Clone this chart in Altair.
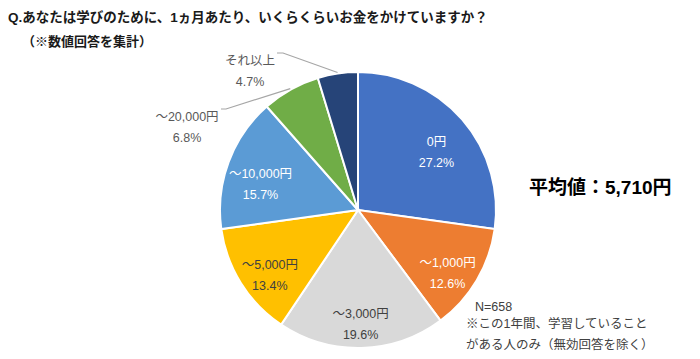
import math
import altair as alt
import pandas as pd

# ---- data ----
categories = ["0円", "～1,000円", "～3,000円", "～5,000円", "～10,000円", "～20,000円", "それ以上"]
percents = [27.2, 12.6, 19.6, 13.4, 15.7, 6.8, 4.7]
slice_colors = ["#4472C4", "#ED7D31", "#D9D9D9", "#FFC000", "#5B9BD5", "#70AD47", "#264478"]
outside_cats = ["～20,000円", "それ以上"]
dark_text_cats = ["～3,000円", "～5,000円"]

title_text = "Q.あなたは学びのために、1ヵ月あたり、いくらくらいお金をかけていますか？"
subtitle_text = "（※数値回答を集計）"
mean_text = "平均値：5,710円"
note_lines = ["N=658", "※この1年間、学習していること", "がある人のみ（無効回答を除く）"]

# ---- layout (pixels inside the plot area) ----
FONT = "Liberation Sans, Noto Sans CJK JP, sans-serif"
CX, CY, R = 350, 202, 138
LABEL_R = 104
outside_layout = {
    "～20,000円": {"label": (179, 108.5), "start": (213, 101), "elbow": (218, 101)},
    "それ以上": {"label": (242, 52.5), "start": (269, 45), "elbow": (275, 45)},
}

df = pd.DataFrame({"cat": categories, "pct": percents, "idx": list(range(len(categories)))})
df["label"] = df["cat"] + "\n" + df["pct"].map(lambda v: f"{v:.1f}%")
df["inside"] = [("" if c in outside_cats else l) for c, l in zip(df["cat"], df["label"])]

color_enc = alt.Color("cat:N", scale=alt.Scale(domain=categories, range=slice_colors), legend=None)
theta_enc = alt.Theta("pct:Q", stack=True)
order_enc = alt.Order("idx:Q")

pie = alt.Chart(df).mark_arc(outerRadius=R, stroke="white", strokeWidth=2).encode(
    theta=theta_enc, order=order_enc, color=color_enc,
    x=alt.value(CX), y=alt.value(CY),
)

inside_labels = alt.Chart(df).mark_text(
    radius=LABEL_R, lineBreak="\n", fontSize=12.5, lineHeight=21, font=FONT,
    align="center", baseline="middle",
).encode(
    theta=theta_enc, order=order_enc, text="inside:N",
    x=alt.value(CX), y=alt.value(CY),
    color=alt.condition(alt.FieldOneOfPredicate(field="cat", oneOf=dark_text_cats),
                        alt.value("#404040"), alt.value("white")),
)

# leader lines: from label to pie edge at slice mid-angle
cum = 0.0
rows = []
lab_rows = []
for c, p in zip(categories, percents):
    mid = cum + p / 2
    cum += p
    if c in outside_layout:
        a = mid / 100 * 2 * math.pi
        ex = CX + (R + 1) * math.sin(a)
        ey = CY - (R + 1) * math.cos(a)
        lay = outside_layout[c]
        rows += [
            {"cat": c, "seq": 0, "x": lay["start"][0], "y": lay["start"][1]},
            {"cat": c, "seq": 1, "x": lay["elbow"][0], "y": lay["elbow"][1]},
            {"cat": c, "seq": 2, "x": ex, "y": ey},
        ]
        lab_rows.append({"cat": c, "label": df.loc[df.cat == c, "label"].iloc[0],
                         "x": lay["label"][0], "y": lay["label"][1]})
leader_df = pd.DataFrame(rows)
outlab_df = pd.DataFrame(lab_rows)

leaders = alt.Chart(leader_df).mark_line(color="#A6A6A6", strokeWidth=1.2).encode(
    x=alt.X("x:Q", scale=None, axis=None),
    y=alt.Y("y:Q", scale=None, axis=None),
    detail="cat:N", order="seq:Q",
)
outside_labels = alt.Chart(outlab_df).mark_text(
    lineBreak="\n", fontSize=12.5, lineHeight=21, font=FONT, color="#595959",
    align="center", baseline="middle",
).encode(
    x=alt.X("x:Q", scale=None, axis=None),
    y=alt.Y("y:Q", scale=None, axis=None),
    text="label:N",
)

def text_layer(txt, x, y, size, bold=False, color="#1A1A1A", align="left"):
    return alt.Chart(pd.DataFrame({"t": [txt]})).mark_text(
        fontSize=size, fontWeight="bold" if bold else "normal", font=FONT,
        color=color, align=align, baseline="middle",
    ).encode(text="t:N", x=alt.value(x), y=alt.value(y))

title = text_layer(title_text, 0, 10, 13.5, bold=True)
subtitle = text_layer(subtitle_text, 14, 34, 13, bold=True)
mean = text_layer(mean_text, 521, 180, 19, bold=True, color="#000000")
note1 = text_layer(note_lines[0], 467, 299, 12.5, color="#404040")
note2 = text_layer(note_lines[1], 458, 316, 12.5, color="#404040")
note3 = text_layer(note_lines[2], 458, 337, 12.5, color="#404040")

chart = alt.layer(
    pie, inside_labels, leaders, outside_labels,
    title, subtitle, mean, note1, note2, note3,
).properties(
    width=684, height=343, padding=0,
    autosize=alt.AutoSizeParams(type="none"),
    background="white",
).configure_view(stroke=None)

chart.save("out.html", embed_options={"renderer": "svg", "actions": False})
